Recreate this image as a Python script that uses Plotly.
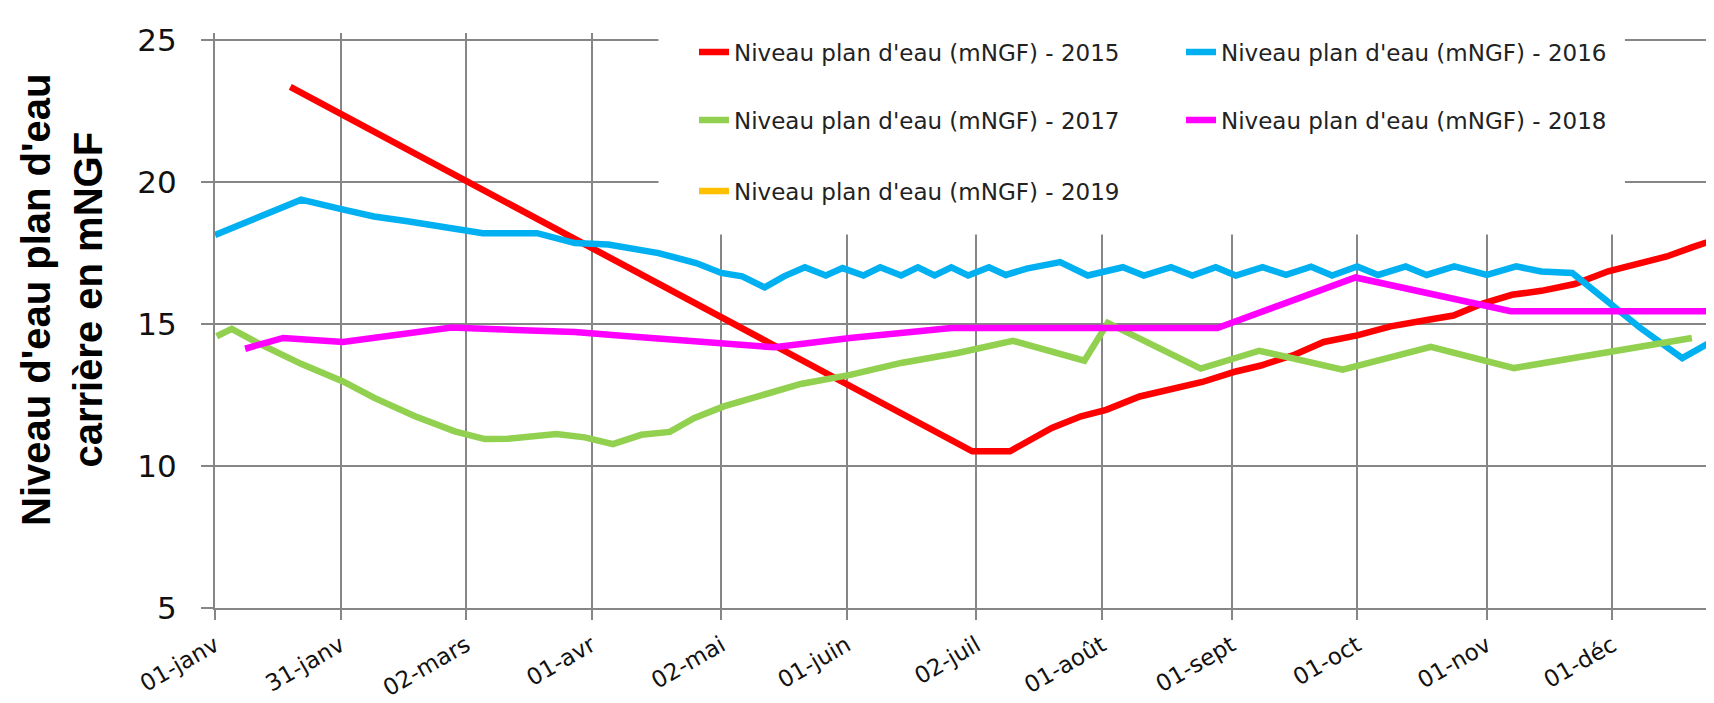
import plotly.graph_objects as go

# day of year (0 = 1 Jan) and water level in mNGF
days_2015 = [18, 181, 190, 200, 207, 213, 221, 229, 236, 244, 250, 258, 265, 273,
             281, 290, 296, 303, 310, 317, 325, 333, 341, 347, 353, 360, 364]
lvl_2015 = [23.35, 10.52, 10.52, 11.34, 11.75, 11.98, 12.45, 12.75, 12.96, 13.33,
            13.54, 13.92, 14.37, 14.6, 14.92, 15.15, 15.3, 15.72, 16.03, 16.17,
            16.41, 16.86, 17.15, 17.38, 17.7, 18.05, 18.25]

days_2016 = [0, 8, 20.6, 30.7, 38, 46, 61, 64, 77, 86, 94, 106, 115, 121, 126, 131.4,
             136, 141, 146, 150, 155, 159, 164, 168, 172, 176, 180, 185, 189, 194,
             202, 208.6, 217, 222, 228.5, 233.6, 239.2, 244, 250.4, 256, 262, 267,
             273, 278, 284.6, 289.6, 296.2, 304, 311, 317, 324.4, 333.6, 340.7,
             350.7, 352.7, 360, 364]
lvl_2016 = [18.14, 18.62, 19.38, 19.03, 18.79, 18.62, 18.26, 18.2, 18.2, 17.85, 17.8,
            17.5, 17.15, 16.8, 16.68, 16.29, 16.68, 17.0, 16.71, 16.97, 16.71, 17.0,
            16.71, 17.0, 16.71, 17.0, 16.71, 17.0, 16.73, 16.95, 17.18, 16.71, 17.0,
            16.71, 17.0, 16.71, 17.0, 16.71, 17.0, 16.73, 17.02, 16.71, 17.03, 16.73,
            17.03, 16.73, 17.03, 16.73, 17.03, 16.85, 16.8, 15.68, 14.86, 13.8,
            13.97, 14.62, 14.9]

days_2017 = [0.4, 4, 10.3, 20.7, 30.6, 38.2, 47.8, 57.3, 64.5, 70, 81.6, 88.4, 95.1,
             101.9, 108.7, 114.6, 121.6, 130.5, 140, 151.8, 164, 177.5, 190.7,
             207.8, 213.4, 235.6, 249.6, 269.5, 290.6, 310.5, 353]
lvl_2017 = [14.57, 14.83, 14.33, 13.59, 12.98, 12.39, 11.75, 11.22, 10.95, 10.96,
            11.13, 11.01, 10.77, 11.1, 11.2, 11.69, 12.1, 12.51, 12.89, 13.21, 13.63,
            13.98, 14.41, 13.71, 15.04, 13.43, 14.06, 13.39, 14.2, 13.45, 14.51]

days_2018 = [7.2, 16.3, 30.6, 56.5, 61, 86, 98.7, 121.6, 133.7, 151.8, 176, 239.6,
             272.6, 309.7, 364]
lvl_2018 = [14.13, 14.51, 14.37, 14.88, 14.85, 14.72, 14.57, 14.33, 14.18, 14.51,
            14.86, 14.86, 16.64, 15.45, 15.45]

# no 2019 values plotted, only its legend entry
days_2019 = [None]
lvl_2019 = [None]

tick_days = [0, 30, 60, 90, 121, 151, 182, 212, 243, 273, 304, 334]
tick_labels = ["01-janv", "31-janv", "02-mars", "01-avr", "02-mai", "01-juin",
               "02-juil", "01-août", "01-sept", "01-oct", "01-nov", "01-déc"]

series = [
    ("Niveau plan d'eau (mNGF) - 2015", days_2015, lvl_2015, "#FF0000", "legend"),
    ("Niveau plan d'eau (mNGF) - 2016", days_2016, lvl_2016, "#00B0F0", "legend2"),
    ("Niveau plan d'eau (mNGF) - 2017", days_2017, lvl_2017, "#92D050", "legend3"),
    ("Niveau plan d'eau (mNGF) - 2018", days_2018, lvl_2018, "#FF00FF", "legend4"),
    ("Niveau plan d'eau (mNGF) - 2019", days_2019, lvl_2019, "#FFC000", "legend5"),
]

W, H = 1714, 703
L, T, B = 207, 25, 103
PW, PH = W - L, H - T - B
grid = "#868686"

fig = go.Figure()
for name, x, y, col, lg in series:
    fig.add_trace(go.Scatter(x=x, y=y, mode="lines", name=name, legend=lg,
                             line=dict(color=col, width=6.5)))

# legend placement: pixel position of the legend's left edge / row centre
leg_pos = {"legend": (686, 44), "legend2": (1173, 44), "legend3": (686, 112),
           "legend4": (1173, 112), "legend5": (686, 183)}
leg_font = dict(family="DejaVu Sans", size=23, color="#222222")
for key, (px, py) in leg_pos.items():
    fig.update_layout({key: dict(x=(px - L) / PW, y=(H - B - py) / PH,
                                 xanchor="left", yanchor="middle", bgcolor="rgba(0,0,0,0)",
                                 borderwidth=0, font=leg_font)})

# white box behind the legend hides the grid there
fig.add_shape(type="rect", xref="x", yref="y", x0=106, x1=337, y0=18.15, y1=25.4,
              fillcolor="white", line_width=0, layer="between")

fig.add_annotation(text="<b>Niveau d'eau plan d'eau<br>carrière en mNGF</b>",
                   xref="paper", yref="paper", x=(54 - L) / PW, y=(H - B - 292) / PH,
                   xanchor="center", yanchor="middle", textangle=-90, showarrow=False,
                   font=dict(family="Liberation Sans, Arial", size=40, color="black"))

fig.update_xaxes(range=[0, 360.2], tickvals=tick_days, ticktext=tick_labels, tickangle=-30,
                 showgrid=True, gridcolor=grid, gridwidth=2, zeroline=False,
                 showline=True, linecolor=grid, linewidth=2,
                 ticks="outside", ticklen=10, tickwidth=2, tickcolor=grid,
                 ticklabelstandoff=3,
                 tickfont=dict(family="DejaVu Sans", size=23, color="#111111"))
fig.update_yaxes(range=[5, 25.25], tickvals=[5, 10, 15, 20, 25],
                 showgrid=True, gridcolor=grid, gridwidth=2, zeroline=False,
                 showline=True, linecolor=grid, linewidth=2,
                 ticks="outside", ticklen=12, tickwidth=2, tickcolor=grid,
                 ticklabelstandoff=18,
                 tickfont=dict(family="DejaVu Sans", size=31, color="#111111"))

fig.update_layout(width=W, height=H, margin=dict(l=L, r=0, t=T, b=B, autoexpand=False),
                  plot_bgcolor="white", paper_bgcolor="white", showlegend=True)

fig.write_html("out.html")
